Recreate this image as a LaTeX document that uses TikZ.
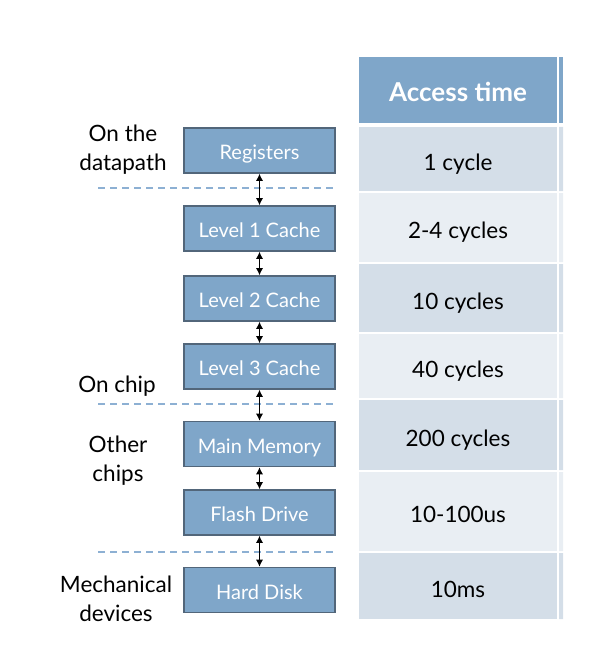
\documentclass[tikz,border=0pt]{standalone}
\usepackage{fontspec}
\setmainfont{Lato}
\usetikzlibrary{arrows.meta}

\definecolor{boxblue}{HTML}{7FA6C9}
\definecolor{boxedge}{HTML}{52667A}
\definecolor{rowdark}{HTML}{D4DEE8}
\definecolor{rowlight}{HTML}{E9EEF3}
\definecolor{dashblue}{HTML}{8DB0D3}

\begin{document}
\begin{tikzpicture}[x=1pt,y=-1pt]

    \tikzstyle{level}=[rectangle, fill=boxblue, draw=boxedge, line width=1.6pt,
                       minimum width=151pt, minimum height=45pt, inner sep=0pt,
                       text height=20pt, text depth=2pt,
                       text=white, font=\fontsize{20}{22}\selectfont]
    \tikzstyle{cell}=[rectangle, minimum width=198pt, inner sep=0pt,
                      text height=24pt, text depth=2pt,
                      font=\fontsize{22.5}{24}\selectfont]
    \tikzstyle{tag}=[align=center, font=\fontsize{22.5}{29}\selectfont]
    \tikzstyle{link}=[{Latex[length=7pt,width=7pt]}-{Latex[length=7pt,width=7pt]}, line width=0.9pt]
    \tikzstyle{border}=[dashblue, line width=1.5pt, dash pattern=on 7pt off 5pt]

    \useasboundingbox (0,0) rectangle (592,658);

    % table column
    \node[cell, fill=boxblue, minimum height=66pt, text=white, text height=25.5pt,
          font=\fontsize{26}{28}\selectfont\bfseries] (hdr) at (458,90) {Access time};
    \node[cell, fill=rowdark,  minimum height=64pt] (t1) at (458,159)   {1 cycle};
    \node[cell, fill=rowlight, minimum height=69pt] (t2) at (458,227.5) {2-4 cycles};
    \node[cell, fill=rowdark,  minimum height=68pt] (t3) at (458,298)   {10 cycles};
    \node[cell, fill=rowlight, minimum height=64pt] (t4) at (458,366)   {40 cycles};
    \node[cell, fill=rowdark,  minimum height=70pt] (t5) at (458,435)   {200 cycles};
    \node[cell, fill=rowlight, minimum height=79pt] (t6) at (458,511.5) {10-100us};
    \node[cell, fill=rowdark,  minimum height=66pt] (t7) at (458,586)   {10ms};

    % edge of the next column
    \fill[boxblue]  (559,57)  rectangle (563,123);
    \fill[rowdark]  (559,127) rectangle (563,191)
                    (559,264) rectangle (563,332)
                    (559,400) rectangle (563,470)
                    (559,553) rectangle (563,619);
    \fill[rowlight] (559,193) rectangle (563,262)
                    (559,334) rectangle (563,398)
                    (559,472) rectangle (563,551);

    % boundaries
    \draw[border] (98,188) -- (333,188)
                  (98,404) -- (333,404)
                  (98,552) -- (333,552);

    % hierarchy
    \node[level] (reg)   at (259.5,150.5) {Registers};
    \node[level] (cache1) at (259.5,228.5) {Level 1 Cache};
    \node[level] (cache2) at (259.5,298.5) {Level 2 Cache};
    \node[level] (cache3) at (259.5,366.5) {Level 3 Cache};
    \node[level] (mem)   at (259.5,444)   {Main Memory};
    \node[level] (flash) at (259.5,512.5) {Flash Drive};
    \node[level] (disk)  at (259.5,590)   {Hard Disk};

    \draw[link] (reg)    -- (cache1);
    \draw[link] (cache1) -- (cache2);
    \draw[link] (cache2) -- (cache3);
    \draw[link] (cache3) -- (mem);
    \draw[link] (mem)    -- (flash);
    \draw[link] (flash)  -- (disk);

    \node[tag] (datapath) at (123,150) {On the\\datapath};
    \node[tag] (chip)     at (117,386) {On chip};
    \node[tag] (other)    at (118,461) {Other\\chips};
    \node[tag] (mech)     at (116,599) {Mechanical\\devices};

\end{tikzpicture}
\end{document}
